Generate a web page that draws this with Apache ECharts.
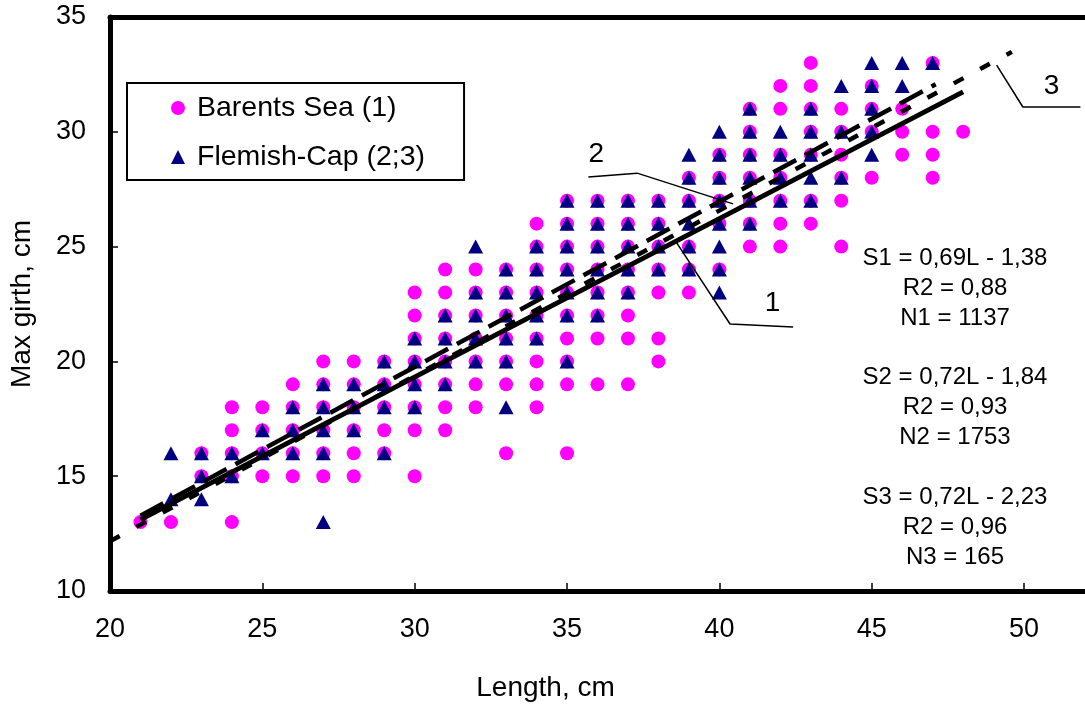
<!DOCTYPE html>
<html>
<head>
<meta charset="utf-8">
<title>Max girth vs length</title>
<script src="https://cdn.jsdelivr.net/npm/echarts@6/dist/echarts.min.js"></script>
</head>
<body style="margin:0">
<div id="chart" style="width:1085px;height:708px;"></div>
<script>
// [length, [girths seen at that length]]
const barentsCols = [
    [21, [13]], [22, [13]], [23, [15, 16]], [24, [13, 15, 16, 17, 18]],
    [25, [15, 16, 17, 18]], [26, [15, 16, 17, 18, 19]], [27, [15, 16, 17, 18, 19, 20]],
    [28, [15, 16, 17, 18, 19, 20]], [29, [16, 17, 18, 19, 20]],
    [30, [15, 17, 18, 19, 20, 21, 22, 23]], [31, [17, 18, 19, 20, 21, 22, 23, 24]],
    [32, [18, 19, 20, 21, 22, 23, 24]], [33, [16, 19, 20, 21, 22, 23, 24]],
    [34, [18, 19, 20, 21, 22, 23, 24, 25, 26]], [35, [16, 19, 20, 21, 22, 23, 24, 25, 26, 27]],
    [36, [19, 21, 22, 23, 24, 25, 26, 27]], [37, [19, 21, 22, 23, 24, 25, 26, 27]],
    [38, [20, 21, 23, 24, 25, 26, 27]], [39, [23, 24, 25, 27, 28]],
    [40, [24, 26, 27, 28, 29]], [41, [25, 26, 27, 28, 29, 30, 31]],
    [42, [25, 26, 27, 28, 29, 31, 32]], [43, [26, 27, 29, 30, 31, 32, 33]],
    [44, [25, 27, 28, 29, 30, 31]], [45, [28, 30, 31, 32]], [46, [29, 30, 31]],
    [47, [28, 29, 30, 33]], [48, [30]]
];
const flemishCols = [
    [22, [14, 16]], [23, [14, 15, 16]], [24, [15, 16]], [25, [16, 17]],
    [26, [16, 17, 18]], [27, [13, 16, 17, 18, 19]], [28, [17, 18, 19]],
    [29, [16, 18, 19, 20]], [30, [18, 19, 20, 21]], [31, [19, 20, 21, 22]],
    [32, [20, 21, 22, 23, 25]], [33, [18, 20, 21, 22, 23, 24]], [34, [21, 22, 23, 24, 25]],
    [35, [20, 22, 23, 24, 25, 26, 27]], [36, [22, 23, 24, 25, 26, 27]],
    [37, [23, 24, 25, 26, 27]], [38, [24, 25, 26, 27]], [39, [24, 25, 26, 27, 28, 29]],
    [40, [23, 24, 25, 26, 27, 28, 29, 30]], [41, [26, 27, 28, 29, 30, 31]],
    [42, [27, 28, 29, 30]], [43, [27, 28, 29, 30, 31]], [44, [28, 30, 32]],
    [45, [29, 30, 31, 32, 33]], [46, [32, 33]], [47, [33]]
];

// regression lines S = a*L + b and the length span each one is drawn over
const fitNames = ['1', '2', '3'];
const fitSlopes = [0.69, 0.72, 0.72];
const fitIntercepts = [-1.38, -1.84, -2.23];
const fitFrom = [21, 21, 20];
const fitTo = [48, 47.1, 49.6];

// leader lines from the labels to the fits (data units)
const leaderLines = [
    [[38.6, 25.16], [40.35, 21.63], [42.42, 21.5]],
    [[35.7, 28.03], [37.3, 28.2], [40.45, 26.86]],
    [[49.1, 32.9], [49.96, 31.08], [51.85, 31.08]]
];
const leaderLabels = [[41.76, 22.5, '1'], [35.98, 29.0, '2'], [50.92, 31.95, '3']];

const eqTexts = [
    'S1 = 0,69L - 1,38\nR2 = 0,88\nN1 = 1137',
    'S2 = 0,72L - 1,84\nR2 = 0,93\nN2 = 1753',
    'S3 = 0,72L - 2,23\nR2 = 0,96\nN3 = 165'
];

const xTicks = [20, 25, 30, 35, 40, 45, 50];
const yTicks = [10, 15, 20, 25, 30, 35];

function flatten(cols) {
    const out = [];
    cols.forEach(c => c[1].forEach(g => out.push([c[0], g])));
    return out;
}

const FONT = '"Liberation Sans", Arial, sans-serif';
const chart = echarts.init(document.getElementById('chart'));

const fitSeries = fitNames.map((n, i) => ({
    name: 'fit' + n,
    type: 'line',
    symbol: 'none',
    silent: true,
    z: 5,
    lineStyle: {
        color: '#000',
        width: i === 0 ? 5 : 4.5,
        type: i === 0 ? 'solid' : (i === 1 ? [26, 10] : [11, 19])
    },
    data: [fitFrom[i], fitTo[i]].map(x => [x, fitSlopes[i] * x + fitIntercepts[i]])
}));

const leaderSeries = leaderLines.map((pts, i) => ({
    name: 'leader' + i,
    type: 'line',
    symbol: 'none',
    silent: true,
    z: 6,
    lineStyle: { color: '#000', width: 1.5 },
    data: pts
}));

const option = {
    animation: false,
    backgroundColor: '#fff',
    grid: { left: 110, right: 0, top: 17, bottom: 117, outerBoundsMode: 'none' },
    legend: {
        left: 127,
        top: 83,
        orient: 'vertical',
        data: ['Barents Sea (1)', 'Flemish-Cap (2;3)'],
        backgroundColor: '#fff',
        borderColor: '#000',
        borderWidth: 2,
        borderRadius: 0,
        padding: [8, 39, 6, 44],
        itemWidth: 14,
        itemHeight: 14,
        itemGap: 15,
        textStyle: { fontFamily: FONT, fontSize: 28.5, color: '#000', lineHeight: 34, padding: [0, 0, 0, 7] }
    },
    xAxis: [{
        type: 'value',
        min: 20,
        max: 52,
        interval: 5,
        name: 'Length, cm',
        nameLocation: 'middle',
        nameGap: 83,
        nameTextStyle: { fontFamily: FONT, fontSize: 28, color: '#000', padding: [0, 104, 0, 0] },
        axisLine: { show: true, onZero: false, lineStyle: { color: '#000', width: 5 } },
        axisTick: { show: true, inside: true, length: 8, lineStyle: { color: '#000', width: 1.5 } },
        axisLabel: {
            fontFamily: FONT, fontSize: 27, color: '#000', margin: 25,
            showMaxLabel: false,
            formatter: v => xTicks.includes(v) ? String(v) : ''
        },
        splitLine: { show: false }
    }, {
        type: 'value',
        position: 'top',
        min: 20,
        max: 52,
        axisLine: { show: true, onZero: false, lineStyle: { color: '#000', width: 5 } },
        axisTick: { show: false },
        axisLabel: { show: false },
        splitLine: { show: false }
    }],
    yAxis: {
        type: 'value',
        min: 10,
        max: 35,
        interval: 5,
        name: 'Max girth, cm',
        nameLocation: 'middle',
        nameGap: 74,
        nameTextStyle: { fontFamily: FONT, fontSize: 28, color: '#000' },
        axisLine: { show: true, onZero: false, lineStyle: { color: '#000', width: 5 } },
        axisTick: { show: true, inside: true, length: 8, lineStyle: { color: '#000', width: 1.5 } },
        axisLabel: {
            fontFamily: FONT, fontSize: 27, color: '#000', margin: 24,
            formatter: v => yTicks.includes(v) ? String(v) : ''
        },
        splitLine: { show: false }
    },
    series: [
        {
            name: 'Barents Sea (1)',
            type: 'scatter',
            symbol: 'circle',
            symbolSize: 14,
            itemStyle: { color: '#FF00FF', opacity: 1 },
            z: 2,
            data: flatten(barentsCols)
        },
        {
            name: 'Flemish-Cap (2;3)',
            type: 'scatter',
            symbol: 'triangle',
            symbolSize: [15, 14],
            itemStyle: { color: '#000080', opacity: 1 },
            z: 3,
            data: flatten(flemishCols)
        },
        ...fitSeries,
        ...leaderSeries,
        {
            name: 'labels',
            type: 'scatter',
            symbolSize: 1,
            silent: true,
            z: 7,
            itemStyle: { color: 'rgba(0,0,0,0)' },
            label: {
                show: true,
                position: [0, 0],
                align: 'center',
                verticalAlign: 'middle',
                formatter: p => p.value[2],
                fontFamily: FONT,
                fontSize: 28,
                color: '#000',
                opacity: 1
            },
            data: leaderLabels
        }
    ],
    graphic: eqTexts.map((t, i) => ({
        type: 'text',
        x: 955,
        y: 243 + i * 119.5,
        z: 100,
        style: {
            text: t,
            font: '24px ' + FONT,
            fill: '#000',
            align: 'center',
            verticalAlign: 'top',
            lineHeight: 30
        }
    }))
};

chart.setOption(option);
</script>
</body>
</html>
